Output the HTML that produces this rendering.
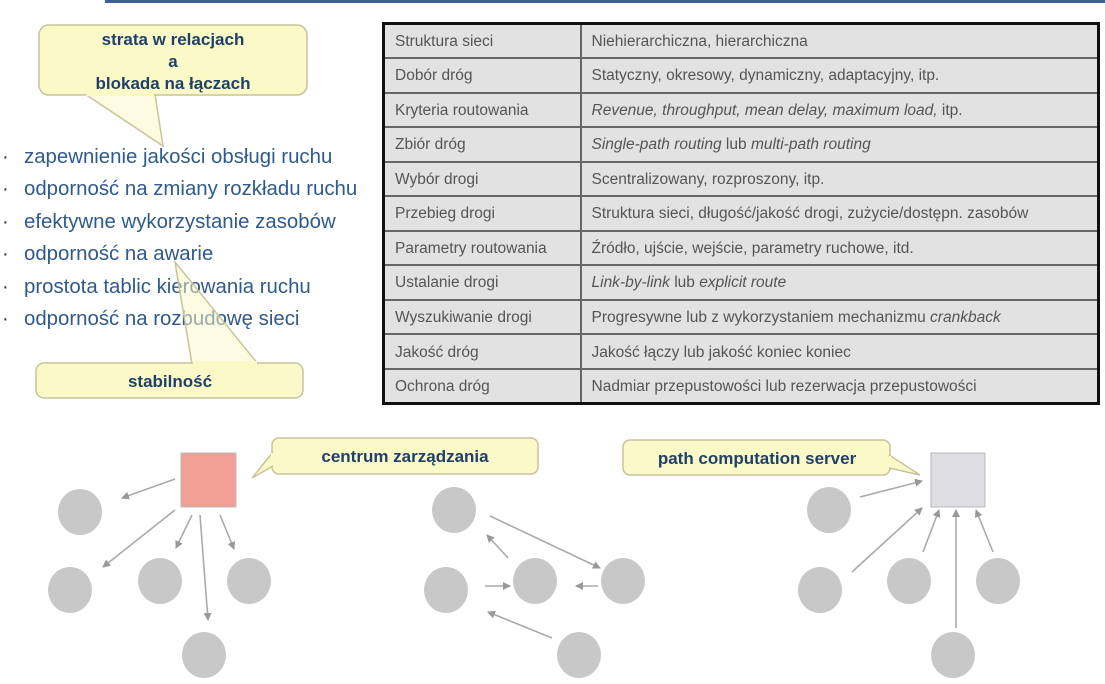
<!DOCTYPE html>
<html><head><meta charset="utf-8"><style>
body{margin:0;width:1105px;height:684px;background:#fff;position:relative;overflow:hidden;font-family:"Liberation Sans",sans-serif}
.top{position:absolute;left:105px;top:0;width:1000px;height:3px;background:#3c5f96}
table{position:absolute;left:382px;top:22px;width:718px;height:383px;border-collapse:collapse;border:3px solid #111;font-size:15.5px;color:#555}
td{border:2px solid #666;background:#e2e2e2;padding:2px 10px 0;height:29px;box-sizing:border-box}
td:first-child{width:197px}
i{font-style:italic}
.list{position:absolute;left:0;top:141px;font-size:20.4px;color:#2f5a8c;line-height:32.4px}
.list div{position:relative;padding-left:24px}
.list div:before{content:"·";position:absolute;left:2px;color:#333}
svg{position:absolute;left:0;top:0}
.t{font-weight:bold;fill:#1f4068;font-size:17px;text-anchor:middle}
</style></head><body>
<div class="top"></div>
<table>
<tr><td>Struktura sieci</td><td>Niehierarchiczna, hierarchiczna</td></tr>
<tr><td>Dobór dróg</td><td>Statyczny, okresowy, dynamiczny, adaptacyjny, itp.</td></tr>
<tr><td>Kryteria routowania</td><td><i>Revenue, throughput, mean delay, maximum load,</i> itp.</td></tr>
<tr><td>Zbiór dróg</td><td><i>Single-path routing</i> lub <i>multi-path routing</i></td></tr>
<tr><td>Wybór drogi</td><td>Scentralizowany, rozproszony, itp.</td></tr>
<tr><td>Przebieg drogi</td><td>Struktura sieci, długość/jakość drogi, zużycie/dostępn. zasobów</td></tr>
<tr><td>Parametry routowania</td><td>Źródło, ujście, wejście, parametry ruchowe, itd.</td></tr>
<tr><td>Ustalanie drogi</td><td><i>Link-by-link</i> lub <i>explicit route</i></td></tr>
<tr><td>Wyszukiwanie drogi</td><td>Progresywne lub z wykorzystaniem mechanizmu <i>crankback</i></td></tr>
<tr><td>Jakość dróg</td><td>Jakość łączy lub jakość koniec koniec</td></tr>
<tr><td>Ochrona dróg</td><td>Nadmiar przepustowości lub rezerwacja przepustowości</td></tr>
</table>
<div class="list">
<div>zapewnienie jakości obsługi ruchu</div>
<div>odporność na zmiany rozkładu ruchu</div>
<div>efektywne wykorzystanie zasobów</div>
<div>odporność na awarie</div>
<div>prostota tablic kierowania ruchu</div>
<div>odporność na rozbudowę sieci</div>
</div>
<svg width="1105" height="684">
<defs><marker id="a" markerWidth="8" markerHeight="8" refX="7" refY="4" orient="auto" markerUnits="userSpaceOnUse"><path d="M0,0L8,4L0,8z" fill="#999"/></marker></defs>
<g fill="#fbf9c8" stroke="#c8c49a" stroke-width="1.5">
<rect x="39" y="25" width="268" height="70" rx="10"/>
<path d="M85,94 L163,146 L155,94" fill-opacity="0.5"/>
<rect x="36" y="363" width="267" height="35" rx="8"/>
<path d="M192,364 L175,262 L258,364" fill-opacity="0.5"/>
<rect x="272" y="438" width="266" height="36" rx="7"/>
<path d="M273,452 L252,478 L273,466"/>
<rect x="623" y="440" width="267" height="35" rx="7"/>
<path d="M889,455 L920,475 L889,468"/>
</g>
<g fill="#fbf9c8"><rect x="86" y="92" width="68" height="4"/><rect x="193" y="361" width="64" height="4"/><rect x="271" y="453" width="4" height="12"/><rect x="887" y="456" width="4" height="11"/></g>
<text class="t" x="173" y="45">strata w relacjach</text>
<text class="t" x="173" y="67">a</text>
<text class="t" x="173" y="89">blokada na łączach</text>
<text class="t" x="170" y="387">stabilność</text>
<text class="t" x="405" y="462">centrum zarządzania</text>
<text class="t" x="757" y="464">path computation server</text>
<rect x="181" y="453" width="55" height="54" fill="#f2a096" stroke="#bbb"/>
<rect x="931" y="453" width="54" height="54" fill="#dedde2" stroke="#bbb"/>
<g fill="#c8c8c8">
<ellipse cx="80" cy="512" rx="22" ry="23"/><ellipse cx="70" cy="590" rx="22" ry="23"/><ellipse cx="160" cy="581" rx="22" ry="23"/><ellipse cx="249" cy="581" rx="22" ry="23"/><ellipse cx="204" cy="655" rx="22" ry="23"/>
<ellipse cx="454" cy="510" rx="22" ry="23"/><ellipse cx="446" cy="590" rx="22" ry="23"/><ellipse cx="535" cy="581" rx="22" ry="23"/><ellipse cx="623" cy="581" rx="22" ry="23"/><ellipse cx="579" cy="655" rx="22" ry="23"/>
<ellipse cx="829" cy="510" rx="22" ry="23"/><ellipse cx="820" cy="590" rx="22" ry="23"/><ellipse cx="909" cy="581" rx="22" ry="23"/><ellipse cx="998" cy="581" rx="22" ry="23"/><ellipse cx="953" cy="655" rx="22" ry="23"/>
</g>
<g stroke="#aaa" stroke-width="1.6" marker-end="url(#a)">
<line x1="175" y1="479" x2="122" y2="498"/>
<line x1="175" y1="510" x2="103" y2="567"/>
<line x1="192" y1="515" x2="176" y2="548"/>
<line x1="200" y1="515" x2="208" y2="620"/>
<line x1="220" y1="515" x2="234" y2="549"/>
<line x1="490" y1="516" x2="600" y2="568"/>
<line x1="508" y1="558" x2="487" y2="535"/>
<line x1="485" y1="586" x2="510" y2="586"/>
<line x1="598" y1="586" x2="576" y2="586"/>
<line x1="552" y1="638" x2="488" y2="612"/>
<line x1="860" y1="497" x2="922" y2="481"/>
<line x1="852" y1="572" x2="922" y2="508"/>
<line x1="923" y1="552" x2="939" y2="510"/>
<line x1="956" y1="628" x2="956" y2="510"/>
<line x1="993" y1="552" x2="976" y2="510"/>
</g>
</svg>
</body></html>
